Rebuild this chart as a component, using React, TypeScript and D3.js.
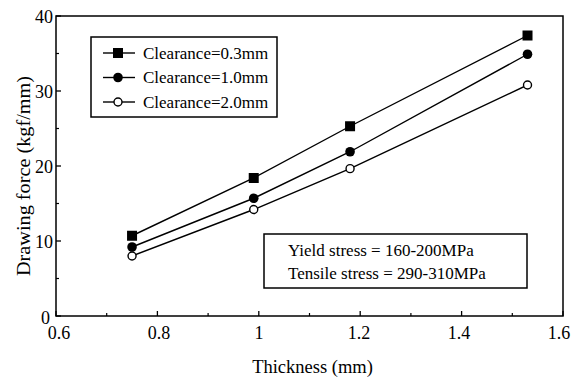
import React from "react";
import * as d3 from "d3";

const thickness = [0.75, 0.99, 1.18, 1.53];
const clear03 = [10.7, 18.4, 25.3, 37.4];
const clear10 = [9.2, 15.7, 21.9, 34.9];
const clear20 = [8.0, 14.2, 19.65, 30.8];
const seriesNames = ["Clearance=0.3mm", "Clearance=1.0mm", "Clearance=2.0mm"];
const xTicks = [0.6, 0.8, 1, 1.2, 1.4, 1.6];
const xMinor = [0.7, 0.9, 1.1, 1.3, 1.5];
const yTicks = [0, 10, 20, 30, 40];
const yMinor = [5, 15, 25, 35];
const noteLines = ["Yield stress = 160-200MPa", "Tensile stress = 290-310MPa"];

const W = 571, H = 379;
const L = 56, R = 563, T = 16, B = 316;
const FONT = "'Liberation Serif', 'DejaVu Serif', serif";

export default function App() {
  const x = d3.scaleLinear().domain([0.6, 1.6]).range([L, R]);
  const xLab = d3.scaleLinear().domain([0.6, 1.6]).range([L + 3, R - 4]);
  const y = d3.scaleLinear().domain([0, 40]).range([B, T]);
  const line = d3.line<number>().x((_, i) => x(thickness[i])).y((d) => y(d));
  const series = [clear03, clear10, clear20];
  const kinds = ["square", "dot", "open"];

  const marker = (kind: string, cx: number, cy: number, key: string) => {
    if (kind === "square")
      return <rect key={key} x={cx - 5} y={cy - 5} width={10} height={10} fill="#000" />;
    if (kind === "dot") return <circle key={key} cx={cx} cy={cy} r={4.8} fill="#000" />;
    return <circle key={key} cx={cx} cy={cy} r={4} fill="#fff" stroke="#000" strokeWidth={1.4} />;
  };

  return (
    <svg width={W} height={H} style={{ position: "absolute", left: 0, top: 0, background: "#fff" }}
      fontFamily={FONT}>
      <rect x={0} y={0} width={W} height={H} fill="#fff" />
      <rect x={L} y={T} width={R - L} height={B - T} fill="none" stroke="#000" strokeWidth={1.5} />
      {xTicks.map((t) => (
        <g key={"xt" + t}>
          <line x1={x(t)} x2={x(t)} y1={B} y2={B - 5} stroke="#000" strokeWidth={1.3} />
          <text x={xLab(t)} y={B + 23} fontSize={18} textAnchor="middle">{String(t)}</text>
        </g>
      ))}
      {xMinor.map((t) => (
        <line key={"xm" + t} x1={x(t)} x2={x(t)} y1={B} y2={B - 3} stroke="#000" strokeWidth={1.2} />
      ))}
      {yTicks.map((t) => (
        <g key={"yt" + t}>
          <line x1={L} x2={L + 5} y1={y(t)} y2={y(t)} stroke="#000" strokeWidth={1.3} />
          <text x={t === 0 ? L - 6 : L - 3} y={y(t) + (t === 0 ? 8 : 6.5)} fontSize={18} textAnchor="end">{String(t)}</text>
        </g>
      ))}
      {yMinor.map((t) => (
        <line key={"ym" + t} x1={L} x2={L + 3} y1={y(t)} y2={y(t)} stroke="#000" strokeWidth={1.2} />
      ))}
      <text x={(L + R) / 2 + 3} y={373} fontSize={18.5} textAnchor="middle">Thickness (mm)</text>
      <text transform={`translate(30, 176) rotate(-90)`} fontSize={19} textAnchor="middle"
        textLength={200} lengthAdjust="spacingAndGlyphs">
        Drawing force (kgf/mm)
      </text>
      {series.map((s, si) => (
        <g key={"s" + si}>
          <path d={line(s) || ""} fill="none" stroke="#000" strokeWidth={1.4} />
          {s.map((v, i) => marker(kinds[si], x(thickness[i]), y(v), `m${si}-${i}`))}
        </g>
      ))}
      <rect x={91} y={37} width={186} height={80} fill="#fff" stroke="#000" strokeWidth={1.5} />
      {seriesNames.map((n, i) => {
        const ry = 53 + i * 24.5;
        return (
          <g key={"lg" + i}>
            <line x1={103} x2={135} y1={ry} y2={ry} stroke="#000" strokeWidth={1.4} />
            {marker(kinds[i], 118, ry, "lm" + i)}
            <text x={143} y={ry + 5.5} fontSize={17}>{n}</text>
          </g>
        );
      })}
      <rect x={264} y={234} width={263} height={54} fill="#fff" stroke="#000" strokeWidth={1.5} />
      {noteLines.map((n, i) => (
        <text key={"nl" + i} x={288} y={256 + i * 23} fontSize={17}>{n}</text>
      ))}
    </svg>
  );
}
